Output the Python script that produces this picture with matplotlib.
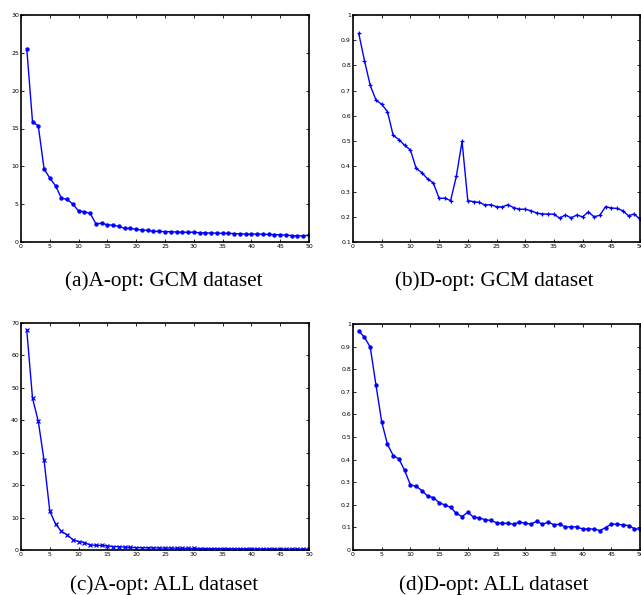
import numpy as np
import matplotlib
matplotlib.use("Agg")
import matplotlib.pyplot as plt

k = np.arange(1, 51)

# (a) A-opt GCM
a_gcm = [25.56, 15.88, 15.35, 9.68, 8.45, 7.43, 5.81, 5.63, 5.02, 4.09,
         4.0, 3.78, 2.42, 2.46, 2.29, 2.2, 2.07, 1.8, 1.8, 1.67,
         1.58, 1.54, 1.41, 1.41, 1.36, 1.36, 1.32, 1.28, 1.3, 1.28,
         1.23, 1.2, 1.19, 1.17, 1.15, 1.14, 1.12, 1.08, 1.05, 1.05,
         1.05, 1.03, 1.0, 0.98, 0.95, 0.92, 0.85, 0.8, 0.82, 0.9]

# (b) D-opt GCM
d_gcm = [0.927, 0.819, 0.721, 0.663, 0.646, 0.617, 0.523, 0.506, 0.483, 0.465,
         0.392, 0.375, 0.350, 0.334, 0.273, 0.274, 0.264, 0.360, 0.499, 0.264,
         0.260, 0.257, 0.247, 0.248, 0.240, 0.239, 0.248, 0.236, 0.230, 0.230,
         0.224, 0.215, 0.211, 0.211, 0.210, 0.195, 0.207, 0.196, 0.207, 0.200,
         0.219, 0.200, 0.206, 0.240, 0.235, 0.233, 0.224, 0.204, 0.211, 0.190]

# (c) A-opt ALL
a_all = [67.8, 46.8, 39.7, 27.7, 12.0, 8.0, 5.75, 4.7, 3.2, 2.6,
         2.3, 1.55, 1.45, 1.4, 1.25, 1.05, 1.0, 0.9, 0.8, 0.75,
         0.7, 0.68, 0.65, 0.62, 0.6, 0.58, 0.55, 0.52, 0.5, 0.48,
         0.46, 0.45, 0.43, 0.42, 0.4, 0.39, 0.38, 0.37, 0.36, 0.35,
         0.34, 0.33, 0.33, 0.32, 0.31, 0.3, 0.3, 0.29, 0.29, 0.28]

# (d) D-opt ALL
d_all = [0.969, 0.941, 0.898, 0.730, 0.567, 0.468, 0.418, 0.403, 0.352, 0.288,
         0.282, 0.263, 0.238, 0.232, 0.210, 0.199, 0.189, 0.162, 0.148, 0.167,
         0.145, 0.142, 0.134, 0.131, 0.121, 0.118, 0.118, 0.114, 0.124, 0.118,
         0.115, 0.127, 0.114, 0.123, 0.112, 0.114, 0.102, 0.103, 0.102, 0.093,
         0.093, 0.093, 0.086, 0.099, 0.115, 0.114, 0.111, 0.108, 0.095, 0.092]

captions = ["(a)A-opt: GCM dataset", "(b)D-opt: GCM dataset",
            "(c)A-opt: ALL dataset", "(d)D-opt: ALL dataset"]

W, H = 641, 595
fig = plt.figure(figsize=(W / 100, H / 100), dpi=100)

def box(l, t, r, b):
    return [l / W, 1 - b / H, (r - l) / W, (b - t) / H]

# axes box, data, marker, y limits, y ticks, caption centre (px)
panels = [
    (box(21, 15, 309, 242), a_gcm, '.', (0, 30), np.arange(0, 31, 5), (164, 281)),
    (box(353, 15, 640, 242), d_gcm, '+', (0.1, 1), np.arange(0.1, 1.01, 0.1), (494, 281)),
    (box(21, 323, 309, 550), a_all, 'x', (0, 70), np.arange(0, 71, 10), (164, 585)),
    (box(353, 324, 640, 550), d_all, '.', (0, 1), np.arange(0, 1.01, 0.1), (494, 585)),
]

for i, (pos, ys, mk, ylim, yt, cap) in enumerate(panels):
    ax = fig.add_axes(pos)
    ax.plot(k, ys, color='#0000ff', lw=1.0, marker=mk,
            ms=4.5 if mk == '.' else 3.5, mew=0.9)
    ax.set_xlim(0, 50)
    ax.set_ylim(*ylim)
    ax.set_xticks(np.arange(0, 51, 5))
    ax.set_yticks(yt)
    ax.set_yticklabels(['%g' % round(v, 2) for v in yt])
    ax.tick_params(direction='in', length=2.5, width=0.6, labelsize=4.5,
                   top=True, right=True, pad=1.5, colors='black')
    for s in ax.spines.values():
        s.set_linewidth(1.2)
    fig.text(cap[0] / W, 1 - cap[1] / H, captions[i], ha='center', va='center',
             family='Liberation Serif', fontsize=15.3)

fig.savefig('out.png', dpi=100)
